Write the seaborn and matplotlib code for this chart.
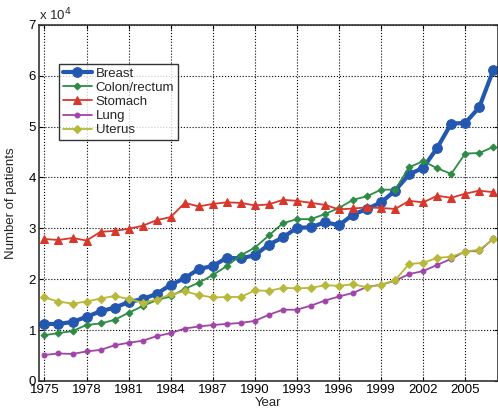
import matplotlib
matplotlib.use("Agg")
import matplotlib.pyplot as plt
import seaborn as sns
import pandas as pd

years = list(range(1975, 2008))

breast = [11200, 11200, 11600, 12600, 13700, 14400, 15500, 16100, 17100, 18900,
          20200, 22000, 22600, 24200, 24100, 24700, 26800, 28200, 30100, 30200,
          31200, 30600, 32700, 33800, 35100, 37400, 40600, 41900, 45800, 50600,
          50700, 53800, 61100]
colon = [9000, 9400, 9800, 11000, 11300, 12000, 13400, 14700, 15900, 16600,
         18100, 19300, 20800, 22600, 24700, 26200, 28600, 31000, 31800, 31800,
         32800, 34000, 35600, 36300, 37600, 37600, 42000, 43200, 41800, 40700,
         44700, 44800, 46000]
stomach = [27900, 27700, 28100, 27600, 29300, 29500, 29900, 30500, 31600, 32200,
           35000, 34300, 34800, 35100, 35000, 34500, 34700, 35600, 35400, 35000,
           34600, 33700, 33900, 34100, 34000, 33800, 35400, 35100, 36400, 36000,
           36800, 37400, 37100]
lung = [5100, 5400, 5300, 5800, 6100, 7000, 7500, 7900, 8800, 9400,
        10300, 10700, 11000, 11200, 11400, 11800, 13000, 14000, 14000, 14800,
        15800, 16600, 17300, 18500, 18900, 19700, 21000, 21600, 22800, 24000,
        25500, 25500, 28000]
uterus = [16400, 15600, 15200, 15600, 16200, 16700, 16100, 15400, 16000, 17000,
          17600, 16900, 16400, 16500, 16500, 17800, 17700, 18300, 18200, 18300,
          18800, 18700, 19000, 18400, 18900, 19800, 23000, 23200, 24200, 24400,
          25400, 25800, 27800]

names = ["Breast", "Colon/rectum", "Stomach", "Lung", "Uterus"]
series = [breast, colon, stomach, lung, uterus]
colors = ["#2458b0", "#2e8b45", "#d8372b", "#a143a8", "#b8b83a"]
markers = ["o", "D", "^", "o", "D"]
msizes = [7, 3.5, 5.5, 3.5, 4]
lwidths = [3, 1.3, 1.3, 1.3, 1.3]

sns.set_style("ticks")
plt.rcParams["font.family"] = ["Liberation Sans", "DejaVu Sans"]
plt.rcParams["font.size"] = 9.5

fig = plt.figure(figsize=(4.98, 4.17), dpi=100)
ax = fig.add_axes([0.078, 0.0865, 0.921, 0.854])

for name, vals, c, m, ms, lw in zip(names, series, colors, markers, msizes, lwidths):
    df = pd.DataFrame({"Year": years, "Patients": [v / 1e4 for v in vals]})
    sns.lineplot(data=df, x="Year", y="Patients", ax=ax, color=c, marker=m,
                 markersize=ms, linewidth=lw, markeredgecolor=c, label=name)

ax.set_xlim(1974.6, 2007.3)
ax.set_ylim(0, 7)
ax.set_xticks(list(range(1975, 2006, 3)))
ax.set_yticks(range(0, 8))
ax.grid(True, color="black", linestyle=":", linewidth=0.8)
ax.tick_params(direction="in", length=3, top=True, right=True, labelsize=9.5,
               width=0.8, colors="black", pad=2)
for s in ax.spines.values():
    s.set_color("#333333")
    s.set_linewidth(1.2)
ax.set_xlabel("Year", fontsize=9.5, labelpad=1)
ax.set_ylabel("Number of patients", fontsize=9.5, labelpad=8)
ax.text(0, 1.005, r"x 10$^{4}$", transform=ax.transAxes, fontsize=9.5,
        ha="left", va="bottom")

leg = ax.legend(loc="upper left", bbox_to_anchor=(0.045, 0.89), fontsize=9.5,
                frameon=True, fancybox=False, edgecolor="black",
                borderpad=0.25, labelspacing=0.15, handlelength=2.2,
                handletextpad=0.3, borderaxespad=0)
leg.get_frame().set_linewidth(1.0)

fig.savefig("out.png", dpi=100)
